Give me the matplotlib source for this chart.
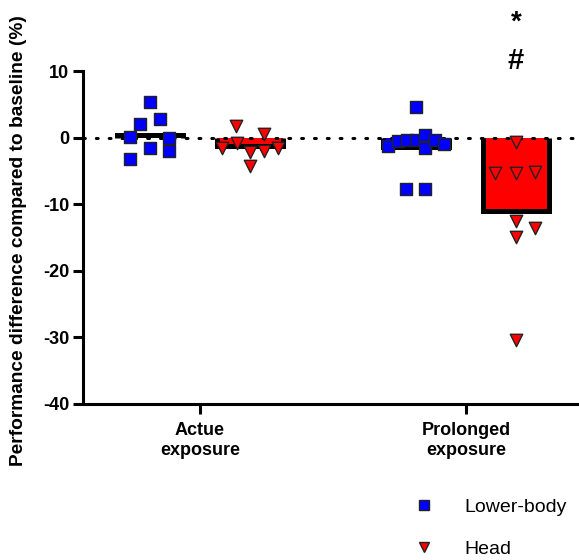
import numpy as np
import matplotlib
matplotlib.use("Agg")
import matplotlib.pyplot as plt
from matplotlib.lines import Line2D

plt.rcParams['font.family'] = ['Liberation Sans', 'DejaVu Sans']

# ---- data ----
categories = ["Actue\nexposure", "Prolonged\nexposure"]
series_names = ["Lower-body", "Head"]
lower_actue = [5.4, 2.8, 2.1, 0.1, -0.05, -1.5, -2.0, -3.2]
head_actue = [1.7, 0.6, -1.5, -0.8, -2.1, -2.0, -1.5, -4.3]
lower_prolonged = [-1.3, -0.55, -0.3, -0.4, 0.45, -1.55, -0.4, -0.9, 4.6, -7.7, -7.7]
head_prolonged = [-0.7, -5.3, -5.3, -5.1, -12.5, -13.6, -15.0, -30.4]
yticks = [10, 0, -10, -20, -30, -40]

# horizontal spread of the points inside each column (scatter layout)
off_lower_actue = [0.0, 0.10, -0.10, -0.20, 0.19, 0.0, 0.19, -0.20]
off_head_actue = [-0.14, 0.14, -0.28, -0.13, 0.0, 0.14, 0.28, 0.0]
off_lower_prol = [-0.28, -0.18, -0.09, 0.0, 0.09, 0.09, 0.19, 0.28, 0.0, -0.10, 0.09]
off_head_prol = [0.0, -0.21, 0.0, 0.19, 0.0, 0.19, 0.0, 0.0]

fig = plt.figure(figsize=(5.79, 5.6), dpi=100)
ax = fig.add_axes([83/579, 1-404/560, (578-83)/579, (404-71)/560])

colors = ["#0000FF", "#FF0000"]
markers = ["s", "v"]
positions = [0.0, 1.0, 2.66, 3.66]
groups = [(lower_actue, off_lower_actue, 0), (head_actue, off_head_actue, 1),
          (lower_prolonged, off_lower_prol, 0), (head_prolonged, off_head_prol, 1)]
bw = 0.66

for pos, (vals, offs, si) in zip(positions, groups):
    m = float(np.mean(vals))
    ax.bar(pos, m, width=bw, color=colors[si], linewidth=0, zorder=1)
    xl, xr = pos - bw/2, pos + bw/2
    ax.plot([xl, xl, xr, xr], [0, m, m, 0], color="black", lw=3.6,
            solid_joinstyle="miter", solid_capstyle="butt", zorder=2)
    ax.scatter(pos + np.array(offs), vals, marker=markers[si], s=70 if si == 0 else 80,
               color=colors[si], edgecolors="#222222", linewidths=1.0, zorder=4)

ax.axhline(0, color="black", lw=2.2, linestyle=(0, (0.6, 3.6)), dash_capstyle="round", zorder=3)

ax.set_xlim(-0.67, 4.28)
ax.set_ylim(-40, 10)
ax.set_yticks(yticks)
ax.set_yticklabels([str(t) for t in yticks], fontsize=13, fontweight="bold")
ax.set_xticks([0.5, 3.16])
ax.set_xticklabels(categories, fontsize=13, fontweight="bold", linespacing=1.25)
for s in ["top", "right"]:
    ax.spines[s].set_visible(False)
for s in ["left", "bottom"]:
    ax.spines[s].set_linewidth(2.2)
ax.tick_params(axis="both", width=2.2, length=7)
ax.tick_params(axis="x", pad=6)
ax.tick_params(axis="y", pad=3)
ax.set_ylabel("Performance difference compared to baseline (%)", fontsize=13.8,
              fontweight="bold")
ax.yaxis.set_label_coords(-0.113, 0.49)

ax.text(positions[3], 17.3, "*", ha="center", va="center", fontsize=20,
        fontweight="bold", clip_on=False)
ax.text(positions[3], 11.5, "#", ha="center", va="center", fontsize=21,
        fontweight="bold", clip_on=False)

handles = [Line2D([], [], linestyle="none", marker=markers[i], markersize=7.5,
                  markerfacecolor=colors[i], markeredgecolor="#222222") for i in range(2)]
fig.legend(handles, series_names, loc="upper left", bbox_to_anchor=(408/579, 1-498/560),
           frameon=False, fontsize=14, labelspacing=1.25, handletextpad=1.3,
           handlelength=1.6, borderaxespad=0, borderpad=0)

fig.savefig("out.png", dpi=100)
